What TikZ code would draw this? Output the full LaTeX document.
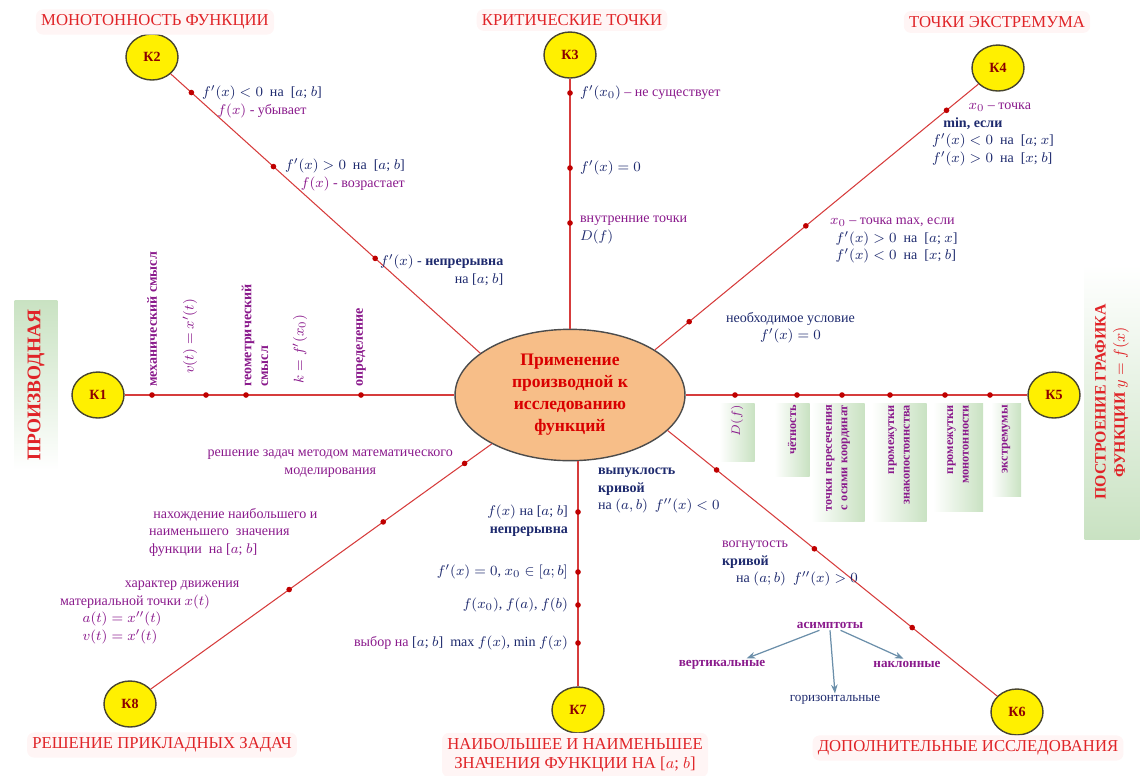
\documentclass[tikz,border=0pt]{standalone}
\usepackage{fontspec}
\setmainfont{Liberation Serif}
\usetikzlibrary{shapes.geometric, arrows.meta, calc}

\definecolor{raycol}{HTML}{D63C3C}
\definecolor{titlecol}{HTML}{E02428}
\definecolor{inkblue}{HTML}{1E2A6E}
\definecolor{inkviolet}{HTML}{8A1A8C}
\definecolor{corefill}{HTML}{F7BE88}
\definecolor{knotfill}{HTML}{FFF000}
\definecolor{leaf}{HTML}{C9E2C2}
\definecolor{asymcol}{HTML}{6B8FAA}

\begin{document}
\begin{tikzpicture}[x=0.02cm, y=-0.02cm,
  knot/.style={ellipse, draw=black!65!olive, thick, fill=knotfill, minimum width=1.04cm,
    minimum height=0.92cm, inner sep=0pt, font=\fontsize{8}{9}\selectfont\bfseries, text=red!55!black},
  ray/.style={draw=raycol, line width=0.6pt},
  dot/.style={fill=red!75!black},
  lbl/.style={font=\fontsize{8}{10}\selectfont, text=inkblue, inner sep=1pt},
  lblv/.style={lbl, text=inkviolet},
  title/.style={font=\fontsize{9.5}{11}\selectfont, text=titlecol, fill=red!4, rounded corners=4pt, inner sep=3pt},
  vtext/.style={rotate=90, font=\fontsize{8}{9.5}\selectfont\bfseries, text=inkviolet, inner sep=1pt},
  vbox/.style={vtext, font=\fontsize{7}{8.8}\selectfont\bfseries, anchor=east, align=right,
    right color=leaf, left color=white},
  asym/.style={-{Stealth[length=5pt]}, draw=asymcol, line width=0.7pt},
]
\useasboundingbox (0,0) rectangle (1140,775);

% --- centre ---
\node[ellipse, draw=black!70, thick, fill=corefill, minimum width=4.6cm, minimum height=2.4cm,
  align=center, font=\fontsize{10}{12.5}\selectfont\bfseries, text=red!85!black] (core) at (570,395)
  {Применение\\производной к\\исследованию\\функций};

% --- knots ---
\node[knot] (k1) at (98,395) {К1};
\node[knot] (k2) at (152,57) {К2};
\node[knot] (k3) at (570,55) {К3};
\node[knot] (k4) at (998,68) {К4};
\node[knot] (k5) at (1054,395) {К5};
\node[knot] (k6) at (1017,712) {К6};
\node[knot] (k7) at (578,710) {К7};
\node[knot] (k8) at (130,704) {К8};

% --- rays ---
\draw[ray] (k1) -- (core.west);
\draw[ray] (k2) -- (core.155);
\draw[ray] (k3) -- (core.north);
\draw[ray] (k4) -- (core.28);
\draw[ray] (core.east) -- (k5);
\draw[ray] (core.-20) -- (k6);
\draw[ray] (k7) -- (k7 |- core.south);
\draw[ray] (k8) -- (core.212);

% dots on the rays
\foreach \x in {152,206,246,361} \fill[dot] (\x,395) circle (1.6pt);
\foreach \t in {0.12,0.37,0.68} \fill[dot] ($(k2)!\t!(core.155)$) circle (1.6pt);
\foreach \y in {93,168,223} \fill[dot] (570,\y) circle (1.6pt);
\foreach \t in {0.15,0.56,0.9} \fill[dot] ($(k4)!\t!(core.28)$) circle (1.6pt);
\foreach \x in {735,797,842,890,945,990} \fill[dot] (\x,395) circle (1.6pt);
\foreach \t in {0.14,0.42,0.70} \fill[dot] ($(core.-20)!\t!(k6)$) circle (1.6pt);
\foreach \y in {512,572,605,643} \fill[dot] (578,\y) circle (1.6pt);
\foreach \t in {0.44,0.70,0.925} \fill[dot] ($(k8)!\t!(core.212)$) circle (1.6pt);

% --- titles ---
\node[title] (t2) at (155,22) {МОНОТОННОСТЬ ФУНКЦИИ};
\node[title] (t3) at (572,20) {КРИТИЧЕСКИЕ ТОЧКИ};
\node[title] (t4) at (997,22) {ТОЧКИ ЭКСТРЕМУМА};
\node[title] (t8) at (162,745) {РЕШЕНИЕ ПРИКЛАДНЫХ ЗАДАЧ};
\node[title, align=center] (t7) at (575,755) {НАИБОЛЬШЕЕ И НАИМЕНЬШЕЕ\\ЗНАЧЕНИЯ ФУНКЦИИ НА [$a$; $b$]};
\node[title] (t6) at (968,748) {ДОПОЛНИТЕЛЬНЫЕ ИССЛЕДОВАНИЯ};
\node[rotate=90, font=\fontsize{11}{13}\selectfont\bfseries, text=titlecol, minimum width=3.4cm,
  minimum height=0.86cm, top color=leaf, bottom color=white] (t1) at (36,385) {ПРОИЗВОДНАЯ};
\node[rotate=90, align=center, font=\fontsize{9}{11}\selectfont\bfseries, text=titlecol, minimum width=5.5cm,
  minimum height=1.1cm, top color=white, bottom color=leaf] (t5) at (1112,402)
  {ПОСТРОЕНИЕ ГРАФИКА\\ФУНКЦИИ $y=f(x)$};

% --- K1: derivative ---
\node[vtext, anchor=west] (d1) at (152,389) {механический смысл};
\node[vtext, anchor=west] (d2) at (190,376) {$v(t)=x'(t)$};
\node[vtext, anchor=west, align=left] (d3) at (255,389) {геометрический\\смысл};
\node[vtext, anchor=west] (d4) at (300,386) {$k=f'(x_0)$};
\node[vtext, anchor=west] (d5) at (361,389) {определение};

% --- K2: monotonicity ---
\node[lbl, align=center, anchor=north west] (m1) at (200,84) {$f'(x)<0$ \ на \ [$a$; $b$]\\\textcolor{inkviolet}{$f(x)$ - убывает}};
\node[lbl, align=right, anchor=north west] (m2) at (283,157) {$f'(x)>0$ \ на \ [$a$; $b$]\\\textcolor{inkviolet}{$f(x)$ - возрастает}};
\node[lbl, align=right, anchor=north west] (m3) at (378,253) {$f'(x)$ - \textbf{непрерывна}\\на [$a$; $b$]};

% --- K3: critical points ---
\node[lbl, anchor=west] (c1) at (578,93) {$f'(x_0)$ \textcolor{inkviolet}{– не существует}};
\node[lbl, anchor=west] (c2) at (578,168) {$f'(x)=0$};
\node[lbl, align=left, anchor=north west] (c3) at (578,214) {\textcolor{inkviolet}{внутренние точки}\\$D(f)$};

% --- K4: extrema ---
\node[lbl, align=left, anchor=north west] (e1) at (930,101)
  {\hspace*{2.6em}\textcolor{inkviolet}{$x_0$ – точка}\\\hspace*{0.8em}\textbf{min, если}\\$f'(x)<0$ \ на \ [$a$; $x$]\\$f'(x)>0$ \ на \ [$x$; $b$]};
\node[lbl, align=left, anchor=north west] (e2) at (828,216)
  {\textcolor{inkviolet}{$x_0$ – точка max, если}\\\hspace*{0.4em}$f'(x)>0$ \ на \ [$a$; $x$]\\\hspace*{0.4em}$f'(x)<0$ \ на \ [$x$; $b$]};
\node[lbl, align=center, anchor=north west] (e3) at (724,310) {необходимое условие\\$f'(x)=0$};

% --- K5: graph ---
\node[vbox, text width=1.1cm, minimum height=0.7cm] (g1) at (737,403) {$D(f)$};
\node[vbox, text width=1.4cm, minimum height=0.7cm] (g2) at (792,403) {чётность};
\node[vbox, text width=2.3cm, minimum height=1.06cm] (g3) at (838,403) {точки пересечения\\с осями координат};
\node[vbox, text width=2.3cm, minimum height=1.1cm] (g4) at (899,403) {промежутки\\знакопостоянства};
\node[vbox, text width=2.1cm, minimum height=1.0cm] (g5) at (958,403) {промежутки\\монотонности};
\node[vbox, text width=1.8cm, minimum height=0.6cm] (g6) at (1006,403) {экстремумы};

% --- K6: extra study ---
\node[lbl, align=left, anchor=north west] (x1) at (596,466) {\textbf{выпуклость}\\\textbf{кривой}\\на $(a,b)$ \ $f''(x)<0$};
\node[lbl, align=left, anchor=north west] (x2) at (720,539) {\textcolor{inkviolet}{вогнутость}\\\textbf{кривой}\\\hspace*{1em}на $(a;b)$ \ $f''(x)>0$};
\node[lblv, font=\fontsize{7.5}{9}\selectfont\bfseries] (as) at (830,625) {асимптоты};
\node[lblv, font=\fontsize{7.5}{9}\selectfont\bfseries] (as1) at (722,665) {вертикальные};
\node[lbl, font=\fontsize{7.5}{9}\selectfont] (as2) at (835,700) {горизонтальные};
\node[lblv, font=\fontsize{7.5}{9}\selectfont\bfseries] (as3) at (907,664) {наклонные};
\draw[asym] ([xshift=-6pt]as.south) -- ([xshift=14pt]as1.north);
\draw[asym] (as.south) -- (as2.north);
\draw[asym] ([xshift=6pt]as.south) -- ([xshift=-2pt]as3.north);

% --- K7: max and min ---
\node[lbl, align=right, anchor=north east] (n1) at (570,503) {$f(x)$ на [$a$; $b$]\\\textbf{непрерывна}};
\node[lbl, anchor=east] (n2) at (570,572) {$f'(x)=0$, $x_0\in[a;b]$};
\node[lbl, anchor=east] (n3) at (570,605) {$f(x_0)$, $f(a)$, $f(b)$};
\node[lbl, anchor=east] (n4) at (570,643) {\textcolor{inkviolet}{выбор на} [$a$; $b$] \ max $f(x)$, min $f(x)$};

% --- K8: applied problems ---
\node[lblv, align=center, anchor=north east] (p1) at (455,448) {решение задач методом математического\\моделирования};
\node[lblv, align=left, anchor=north west] (p2) at (147,506) {\hspace*{0.3em}нахождение наибольшего и\\наименьшего \ значения\\функции \ на [$a$; $b$]};
\node[lblv, align=left, anchor=north west] (p3) at (58,579)
  {\hspace*{4.6em}характер движения\\материальной точки $x(t)$\\\hspace*{1.6em}$a(t)=x''(t)$\\\hspace*{1.6em}$v(t)=x'(t)$};
\end{tikzpicture}
\end{document}
